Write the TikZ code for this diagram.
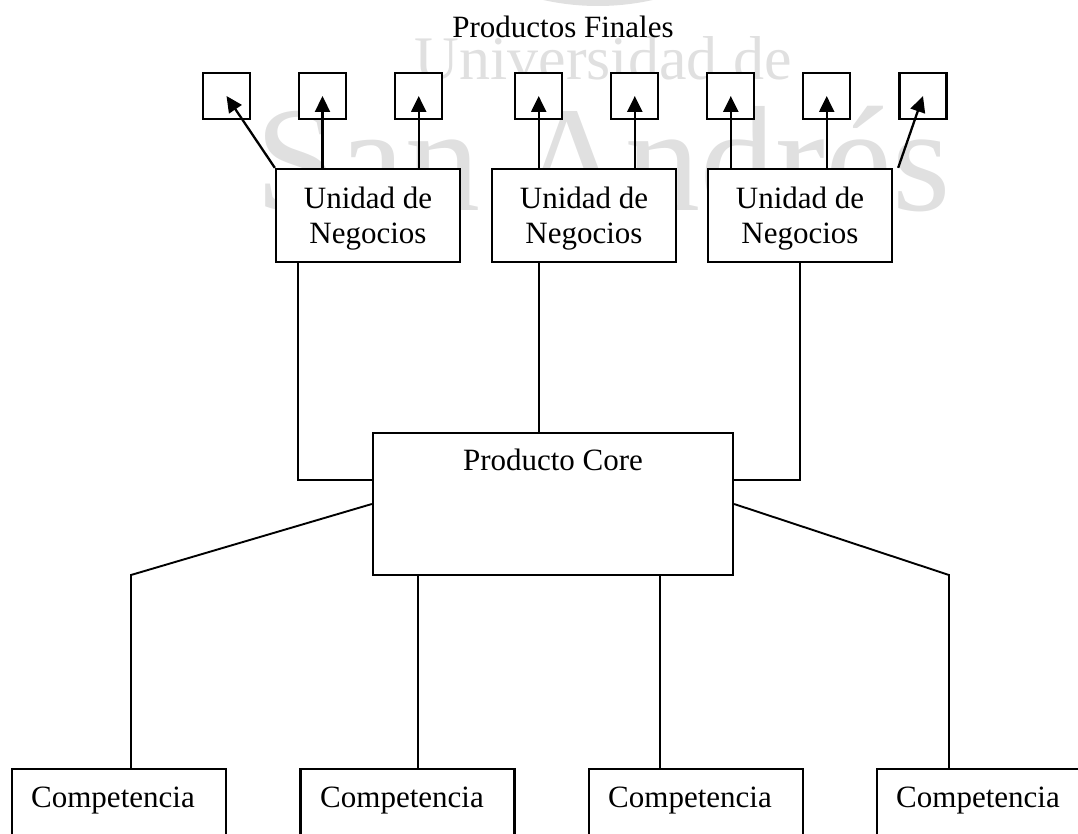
\documentclass[tikz,border=0pt]{standalone}
\usepackage{fontspec}
\setmainfont{Liberation Serif}
\usetikzlibrary{arrows.meta}
\begin{document}
\begin{tikzpicture}[x=1pt,y=-1pt,
  boxline/.style={draw,line width=2.3pt,fill=white,inner sep=0pt},
  pfbox/.style={boxline,minimum width=47pt,minimum height=46pt},
  unbox/.style={boxline,minimum width=184pt,minimum height=93pt},
  corebox/.style={boxline,minimum width=360pt,minimum height=142pt},
  compbox/.style={boxline,minimum width=214pt,minimum height=100pt},
  lbl/.style={font=\fontsize{31}{35}\selectfont,inner sep=0pt},
  arr/.style={line width=2.3pt,-{Triangle[length=16pt,width=15pt]}},
  conn/.style={line width=1.9pt},
  wm/.style={text=black!12,inner sep=0pt}
]
\useasboundingbox (0,0) rectangle (1078,834);

% watermark in the background
\draw[black!12,line width=8pt] (598,-244) circle[radius=246pt];
\node[wm,anchor=base,font=\fontsize{62}{62}\selectfont] (wmtop) at (603,80) {Universidad de};
\node[wm,anchor=base,font=\fontsize{150}{150}\selectfont] (wmbig) at (603,211) {San Andrés};

% title
\node[lbl,anchor=base] (title) at (563,37.7) {Productos Finales};

% final products
\node[pfbox] (pf1) at (226.5,96) {};
\node[pfbox] (pf2) at (322.5,96) {};
\node[pfbox] (pf3) at (418.7,96) {};
\node[pfbox] (pf4) at (538.7,96) {};
\node[pfbox] (pf5) at (634.8,96) {};
\node[pfbox] (pf6) at (730.8,96) {};
\node[pfbox] (pf7) at (826.7,96) {};
\node[pfbox] (pf8) at (923,96) {};

% business units
\node[unbox] (un1) at (368,215.5) {};
\node[unbox] (un2) at (584,215.5) {};
\node[unbox] (un3) at (800,215.5) {};
\node[lbl,anchor=base] (un1a) at (368,208.3) {Unidad de};
\node[lbl,anchor=base] (un1b) at (368,243.3) {Negocios};
\node[lbl,anchor=base] (un2a) at (584,208.3) {Unidad de};
\node[lbl,anchor=base] (un2b) at (584,243.3) {Negocios};
\node[lbl,anchor=base] (un3a) at (800,208.3) {Unidad de};
\node[lbl,anchor=base] (un3b) at (800,243.3) {Negocios};

% core product
\node[corebox] (core) at (553,504) {};
\node[lbl,anchor=base] (coretxt) at (553,470.7) {Producto Core};

% competences
\node[compbox] (cb1) at (119,819) {};
\node[compbox] (cb2) at (407.5,819) {};
\node[compbox] (cb3) at (695.75,819) {};
\node[compbox] (cb4) at (984,819) {};
\node[lbl,anchor=base west] (ct1) at (31,807) {Competencia};
\node[lbl,anchor=base west] (ct2) at (320,807) {Competencia};
\node[lbl,anchor=base west] (ct3) at (608,807) {Competencia};
\node[lbl,anchor=base west] (ct4) at (896,807) {Competencia};

% arrows from business units to final products
\draw[arr] (un1.north west) -- (pf1.center);
\draw[arr] (un1.north -| pf2) -- (pf2.center);
\draw[arr] (un1.north -| pf3) -- (pf3.center);
\draw[arr] (un2.north -| pf4) -- (pf4.center);
\draw[arr] (un2.north -| pf5) -- (pf5.center);
\draw[arr] (un3.north -| pf6) -- (pf6.center);
\draw[arr] (un3.north -| pf7) -- (pf7.center);
\draw[arr] ([xshift=5pt]un3.north east) -- (pf8.center);

% business units to core product
\coordinate (u1) at ([xshift=23pt]un1.south west);
\coordinate (u2) at ([xshift=48pt]un2.south west);
\draw[conn] (u1) |- ([yshift=24pt]core.west);
\draw[conn] (u2) -- (u2 |- core.north);
\draw[conn] (un3.south) |- ([yshift=24pt]core.east);

% core product to competences
\coordinate (bendL) at (131,575);
\coordinate (bendR) at (949,575);
\coordinate (m2) at ([xshift=46pt]core.south west);
\coordinate (m3) at ([xshift=-74pt]core.south east);
\draw[conn] (core.west) -- (bendL) -- (bendL |- cb1.north);
\draw[conn] (m2) -- (m2 |- cb2.north);
\draw[conn] (m3) -- (m3 |- cb3.north);
\draw[conn] (core.east) -- (bendR) -- (bendR |- cb4.north);
\end{tikzpicture}
\end{document}
